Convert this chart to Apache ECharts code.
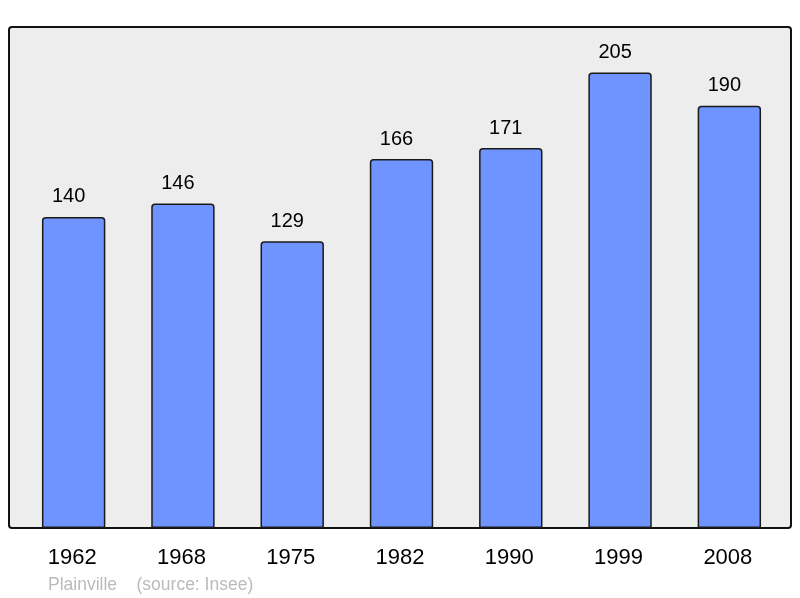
<!DOCTYPE html>
<html>
<head>
<meta charset="utf-8">
<script src="https://cdn.jsdelivr.net/npm/echarts@6/dist/echarts.min.js"></script>
<style>
html, body { margin: 0; padding: 0; background: #fff; }
#chart { width: 800px; height: 598px; }
</style>
</head>
<body>
<div id="chart"></div>
<script>
var years = ['1962', '1968', '1975', '1982', '1990', '1999', '2008'];
var population = [140, 146, 129, 166, 171, 205, 190];

var myChart = echarts.init(document.getElementById('chart'));
var option = {
    animation: false,
    graphic: [
        {
            type: 'rect',
            z: -1,
            shape: { x: 9, y: 27, width: 782, height: 501, r: 3 },
            style: { fill: '#ededed', stroke: '#111', lineWidth: 2 }
        },
        {
            type: 'text',
            left: 48,
            top: 576,
            style: {
                text: 'Plainville    (source: Insee)',
                fill: '#bbbbbb',
                font: '17.5px "Liberation Sans", Arial, sans-serif'
            }
        }
    ],
    grid: { left: 19, right: 16, top: 28, bottom: 70 },
    xAxis: {
        type: 'category',
        data: years,
        axisLine: { show: false },
        axisTick: { show: false },
        axisLabel: {
            margin: 19,
            color: '#000',
            fontSize: 22,
            padding: [0, 3, 0, 0],
            fontFamily: '"Liberation Sans", Arial, sans-serif'
        }
    },
    yAxis: {
        type: 'value',
        min: 0,
        max: 225,
        show: false,
        splitLine: { show: false }
    },
    series: [
        {
            type: 'bar',
            data: population,
            barWidth: '58%',
            itemStyle: {
                color: '#7094ff',
                borderColor: '#1a1a1a',
                borderWidth: 1.5,
                borderRadius: [3, 3, 0, 0]
            },
            label: {
                show: true,
                position: 'top',
                distance: 10,
                offset: [-5, 0],
                color: '#000',
                fontSize: 20,
                fontFamily: '"Liberation Sans", Arial, sans-serif'
            }
        }
    ]
};
myChart.setOption(option);
</script>
</body>
</html>
